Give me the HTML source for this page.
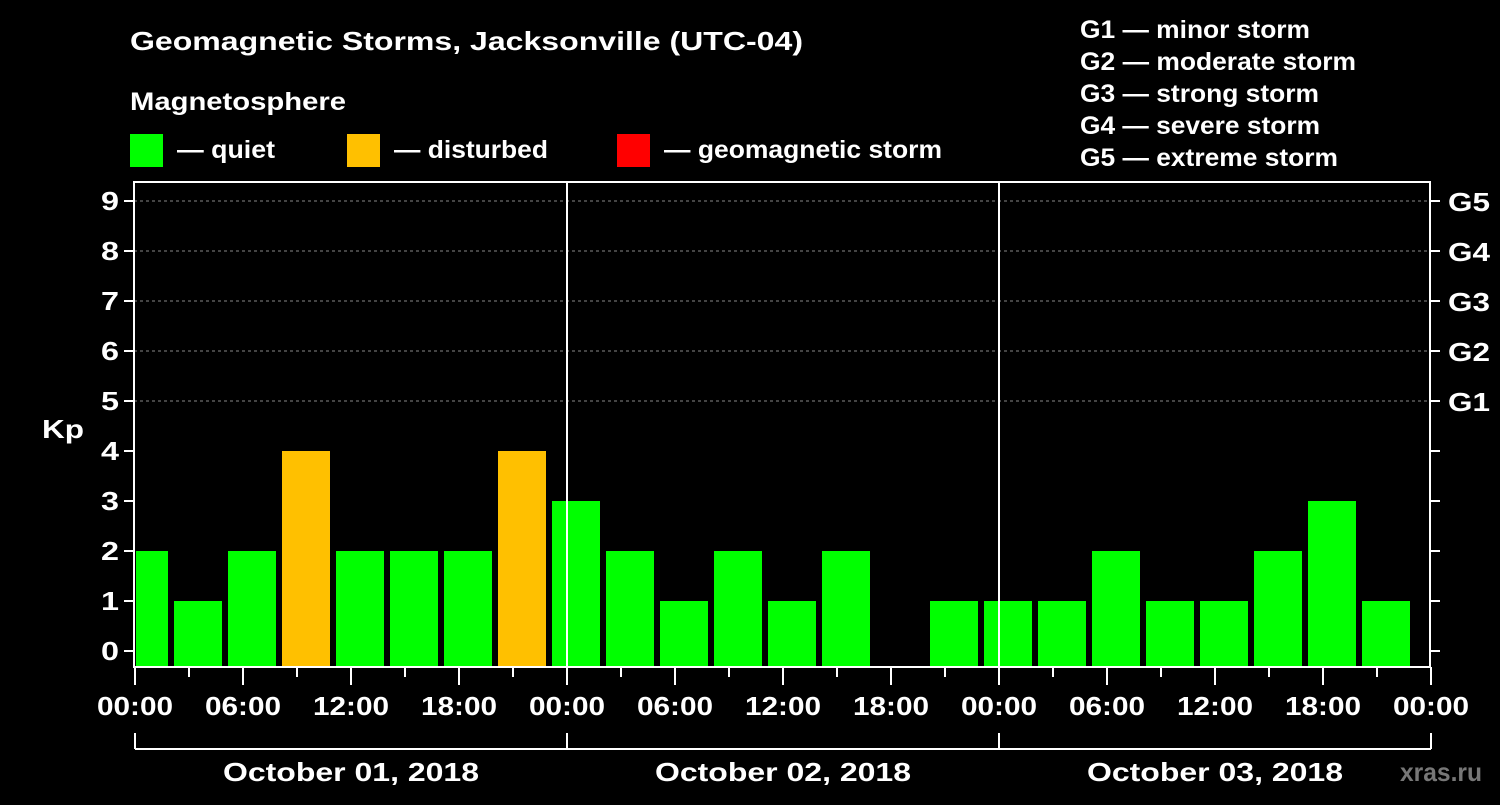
<!DOCTYPE html>
<html><head><meta charset="utf-8"><style>
body{margin:0;background:#000;width:1500px;height:800px;overflow:hidden}
svg text{font-family:"Liberation Sans",sans-serif;font-weight:bold;fill:#fff}
</style></head><body>
<svg id="c" width="1500" height="800" xmlns="http://www.w3.org/2000/svg">
<text x="130" y="50" font-size="26" textLength="673" lengthAdjust="spacingAndGlyphs">Geomagnetic Storms, Jacksonville (UTC-04)</text>
<text x="130" y="110" font-size="25" textLength="216" lengthAdjust="spacingAndGlyphs">Magnetosphere</text>
<rect x="130" y="134" width="33" height="33" fill="#00ff00"/>
<text x="177" y="158" font-size="25" textLength="98" lengthAdjust="spacingAndGlyphs">— quiet</text>
<rect x="347" y="134" width="33" height="33" fill="#ffc000"/>
<text x="394" y="158" font-size="25" textLength="154" lengthAdjust="spacingAndGlyphs">— disturbed</text>
<rect x="617" y="134" width="33" height="33" fill="#ff0000"/>
<text x="664" y="158" font-size="25" textLength="278" lengthAdjust="spacingAndGlyphs">— geomagnetic storm</text>
<g font-size="25">
<text x="1080" y="38" textLength="230" lengthAdjust="spacingAndGlyphs">G1 — minor storm</text>
<text x="1080" y="70" textLength="276" lengthAdjust="spacingAndGlyphs">G2 — moderate storm</text>
<text x="1080" y="102" textLength="239" lengthAdjust="spacingAndGlyphs">G3 — strong storm</text>
<text x="1080" y="134" textLength="240" lengthAdjust="spacingAndGlyphs">G4 — severe storm</text>
<text x="1080" y="166" textLength="258" lengthAdjust="spacingAndGlyphs">G5 — extreme storm</text>
</g>
<text x="42" y="438" font-size="26" textLength="42" lengthAdjust="spacingAndGlyphs">Kp</text>
<text x="1400" y="781" font-size="26" textLength="82" lengthAdjust="spacingAndGlyphs" style="fill:#777">xras.ru</text>
<g id="plot"></g>
</svg>
<script>
const values=[2,1,2,4,2,2,2,4, 3,2,1,2,1,2,null,1, 1,1,2,1,1,2,3,1];
const days=["October 01, 2018","October 02, 2018","October 03, 2018"];
const hourLabels=["00:00","06:00","12:00","18:00"];
const gLabels=["G1","G2","G3","G4","G5"];
const L=134,R=1430,T=182,B=667;
const y=v=>651-50*v;
const x=h=>135+h*18;
const NS="http://www.w3.org/2000/svg";
const g=document.getElementById('plot');
function mk(t,a){const e=document.createElementNS(NS,t);for(const k in a)e.setAttribute(k,a[k]);g.appendChild(e);return e;}
for(let v=5;v<=9;v++){const l=mk('line',{x1:L,x2:R,y1:y(v),y2:y(v),stroke:'#888','stroke-dasharray':'3,3','stroke-width':1});

}
values.forEach((v,i)=>{if(v===null)return;
const cx=x(i*3+1.5)-18;let x0=cx-24,x1=cx+24;if(x0<L+2)x0=L+2;
const r=mk('rect',{x:x0,y:y(v),width:x1-x0,height:B-y(v),fill:v>=5?'#ff0000':v>=4?'#ffc000':'#00ff00'});

});
for(let d=1;d<3;d++){const l=mk('line',{x1:x(24*d),x2:x(24*d),y1:T,y2:B,stroke:'#fff','stroke-width':2});

}
const f=mk('rect',{x:L,y:T,width:R-L,height:B-T,fill:'none',stroke:'#fff','stroke-width':2});


for(let v=0;v<=9;v++){
mk('line',{x1:L-10,x2:L,y1:y(v),y2:y(v),stroke:'#fff','stroke-width':2});
mk('line',{x1:R,x2:R+10,y1:y(v),y2:y(v),stroke:'#fff','stroke-width':2});
const t=mk('text',{x:L-15,y:y(v)+9,'font-size':26,'text-anchor':'end',textLength:18,lengthAdjust:'spacingAndGlyphs'});t.textContent=v;


if(v>=5){const t2=mk('text',{x:1448,y:y(v)+10,'font-size':26,textLength:42,lengthAdjust:'spacingAndGlyphs'});t2.textContent=gLabels[v-5];

}}
for(let h=0;h<=72;h+=3){const major=h%6===0;
mk('line',{x1:x(h),x2:x(h),y1:B,y2:major?B+18:B+10,stroke:'#fff','stroke-width':2});
if(major){const t=mk('text',{x:x(h)-38,y:715,'font-size':26,textLength:76,lengthAdjust:'spacingAndGlyphs'});t.textContent=hourLabels[(h/6)%4];

}}
mk('line',{x1:x(0),x2:x(72),y1:749,y2:749,stroke:'#fff','stroke-width':2});
for(let d=0;d<=3;d++)mk('line',{x1:x(24*d),x2:x(24*d),y1:733,y2:749,stroke:'#fff','stroke-width':2});
days.forEach((s,d)=>{const t=mk('text',{x:x(24*d+12)-128,y:781,'font-size':26,textLength:256,lengthAdjust:'spacingAndGlyphs'});t.textContent=s;

});
</script>
</body></html>
